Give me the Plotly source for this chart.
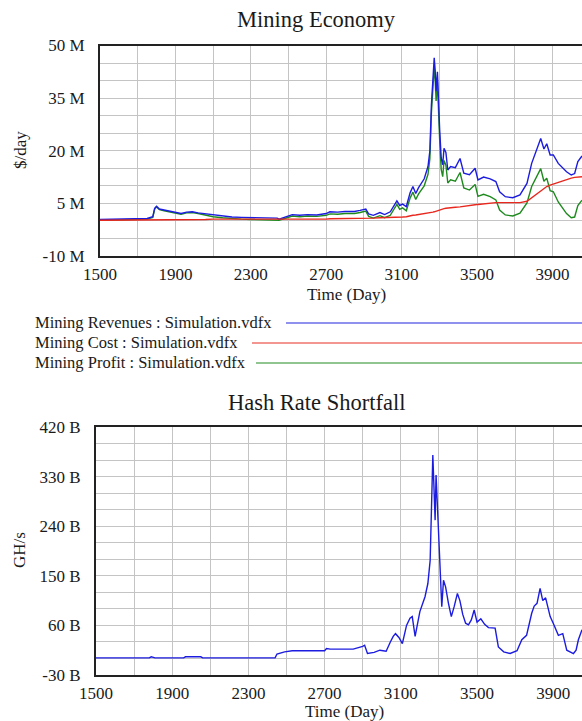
#%%
import plotly.graph_objects as go

#%% Data (top: $ millions/day, bottom: billions GH/s)
top_days = [1500, 1600, 1700, 1750, 1780, 1790, 1800, 1815, 1840, 1870,
            1900, 1930, 1960, 1990, 2020, 2060, 2100, 2150, 2200, 2250,
            2300, 2350, 2400, 2440, 2450, 2480, 2520, 2560, 2600, 2650,
            2700, 2720, 2760, 2800, 2850, 2880, 2910, 2925, 2950, 2985,
            3010, 3040, 3060, 3075, 3090, 3105, 3125, 3145, 3160, 3175,
            3190, 3205, 3220, 3240, 3250, 3258, 3266, 3273, 3278, 3283,
            3290, 3296, 3302, 3310, 3318, 3325, 3335, 3345, 3360, 3385,
            3410, 3430, 3460, 3490, 3505, 3535, 3570, 3600, 3620, 3650,
            3690, 3728, 3765, 3790, 3815, 3838, 3855, 3870, 3888, 3905,
            3931, 3955, 3975, 4000, 4018, 4035, 4057]

mining_revenues = [0.4, 0.5, 0.6, 0.7, 1.2, 3.6, 4.2, 3.4, 3.1, 2.8,
                   2.3, 2.1, 2.5, 2.6, 2.3, 2.0, 1.7, 1.4, 1.1, 1.0,
                   0.9, 0.9, 0.8, 0.8, 0.5, 1.0, 1.8, 1.6, 1.8, 1.7,
                   2.1, 2.6, 2.5, 2.7, 2.7, 3.0, 3.4, 2.0, 1.6, 2.4,
                   1.8, 2.6, 4.5, 5.7, 4.4, 4.8, 4.1, 8.0, 9.8, 7.8,
                   9.5, 10.8, 12.0, 15.5, 20.0, 33.0, 42.0, 46.5, 43.0, 37.0,
                   42.5, 33.0, 26.0, 18.0, 16.0, 20.7, 19.5, 14.5, 15.5, 15.2,
                   17.8, 13.6, 13.2, 15.0, 11.7, 12.5, 12.0, 11.2, 8.3, 6.9,
                   6.6, 7.4, 10.7, 16.4, 20.2, 23.5, 20.5, 22.0, 18.8, 18.8,
                   16.4, 15.0, 14.0, 13.1, 13.5, 16.9, 18.5]

mining_cost = [0.2, 0.2, 0.2, 0.2, 0.2, 0.2, 0.2, 0.2, 0.2, 0.2,
               0.2, 0.2, 0.2, 0.2, 0.2, 0.4, 0.5, 0.5, 0.5, 0.5,
               0.5, 0.5, 0.5, 0.5, 0.3, 0.3, 0.4, 0.4, 0.4, 0.4,
               0.5, 0.6, 0.6, 0.6, 0.6, 0.6, 0.6, 0.7, 0.8, 0.9,
               0.9, 1.0, 1.0, 1.0, 1.1, 1.1, 1.2, 1.5, 1.6, 1.7,
               1.8, 1.9, 2.0, 2.2, 2.3, 2.4, 2.5, 2.6, 2.7, 2.8,
               2.9, 3.0, 3.1, 3.3, 3.4, 3.5, 3.6, 3.7, 3.8, 3.9,
               4.0, 4.2, 4.4, 4.6, 4.7, 4.9, 5.1, 5.2, 5.2, 5.2,
               5.2, 5.2, 5.6, 6.6, 7.8, 8.6, 9.2, 9.8, 10.2, 10.5,
               11.0, 11.5, 11.9, 12.2, 12.4, 12.5, 12.6]

mining_profit = [0.2, 0.3, 0.4, 0.5, 1.0, 3.4, 4.0, 3.2, 2.9, 2.6,
                 2.1, 1.9, 2.3, 2.4, 2.1, 1.6, 1.2, 0.9, 0.6, 0.5,
                 0.4, 0.4, 0.3, 0.3, 0.2, 0.7, 1.4, 1.2, 1.4, 1.3,
                 1.6, 2.0, 1.9, 2.1, 2.1, 2.4, 2.8, 1.3, 0.8, 1.5,
                 0.9, 1.6, 3.5, 4.7, 3.3, 3.7, 2.9, 6.5, 8.2, 6.1,
                 7.7, 8.9, 10.0, 13.3, 17.7, 30.6, 39.5, 43.9, 40.3, 34.2,
                 39.6, 30.0, 22.9, 14.7, 12.6, 17.2, 15.9, 10.8, 11.7, 11.3,
                 13.8, 9.4, 8.8, 10.4, 7.0, 7.6, 6.9, 6.0, 3.1, 1.7,
                 1.4, 2.2, 5.1, 9.8, 12.4, 14.9, 11.3, 12.2, 8.6, 8.3,
                 5.4, 3.5, 2.1, 0.9, 1.1, 4.4, 5.9]

hash_days = [1500, 1780, 1790, 1810, 1960, 1970, 2050, 2060, 2440, 2450,
             2490, 2530, 2700, 2710, 2730, 2850, 2900, 2910, 2925, 2960,
             2990, 3023, 3045, 3060, 3072, 3090, 3108, 3130, 3148, 3160,
             3175, 3200, 3227, 3242, 3254, 3260, 3264, 3268, 3272, 3276,
             3280, 3285, 3290, 3296, 3303, 3310, 3315, 3324, 3335, 3350,
             3365, 3380, 3397, 3410, 3425, 3440, 3455, 3470, 3485, 3500,
             3520, 3540, 3560, 3595, 3612, 3640, 3674, 3710, 3735, 3760,
             3787, 3800, 3815, 3831, 3845, 3860, 3884, 3900, 3927, 3950,
             3971, 4006, 4020, 4032, 4051]

hash_shortfall = [1, 1, 3, 1, 1, 3, 3, 1, 1, 8,
                  12, 14, 14, 18, 17, 17, 22, 24, 9, 11,
                  15, 13, 30, 40, 45, 38, 27, 60, 73, 76,
                  40, 85, 112, 136, 178, 290, 330, 369, 330, 270,
                  251, 333, 290, 257, 172, 120, 94, 142, 130, 100,
                  76, 94, 118, 105, 80, 64, 61, 70, 88, 66,
                  72, 62, 56, 55, 21, 12, 9, 14, 34, 42,
                  82, 95, 100, 127, 105, 110, 76, 64, 42, 45,
                  15, 9, 15, 34, 52]

# Tick labels
x_tick_vals = [1500, 1900, 2300, 2700, 3100, 3500, 3900]
top_tick_vals = [-10, 5, 20, 35, 50]
top_tick_text = ['-10 M', '5 M', '20 M', '35 M', '50 M']
hash_tick_vals = [-30, 60, 150, 240, 330, 420]
hash_tick_text = ['-30 B', '60 B', '150 B', '240 B', '330 B', '420 B']

legend_names = ['Mining Revenues : Simulation.vdfx',
                'Mining Cost : Simulation.vdfx',
                'Mining Profit : Simulation.vdfx']

#%% Styling
W, H = 582, 721
serif = 'Liberation Serif'
text_color = '#1a1a1a'
grid_color = '#c4c4c4'
border_color = '#222222'
blue, red, green = '#1c1ce0', '#e8281e', '#1e8a1e'


def px_x(p):
    return p / W


def px_y(p):
    return 1 - p / H


fig = go.Figure()

# Top graph: draw profit first so revenues / cost sit on top of it
fig.add_trace(go.Scatter(x=top_days, y=mining_profit, mode='lines',
                         line=dict(color=green, width=1.4), xaxis='x', yaxis='y'))
fig.add_trace(go.Scatter(x=top_days, y=mining_revenues, mode='lines',
                         line=dict(color=blue, width=1.4), xaxis='x', yaxis='y'))
fig.add_trace(go.Scatter(x=top_days, y=mining_cost, mode='lines',
                         line=dict(color=red, width=1.4), xaxis='x', yaxis='y'))

# Bottom graph
fig.add_trace(go.Scatter(x=hash_days, y=hash_shortfall, mode='lines',
                         line=dict(color=blue, width=1.4), xaxis='x2', yaxis='y2'))

axis_common = dict(
    showgrid=True, gridcolor=grid_color, gridwidth=1,
    showline=True, linecolor=border_color, linewidth=2,
    zeroline=False, ticks='', fixedrange=True, automargin=False,
    tickfont=dict(family=serif, size=17, color=text_color),
)

fig.update_layout(
    width=W, height=H,
    margin=dict(l=0, r=0, t=0, b=0, pad=0),
    paper_bgcolor='white', plot_bgcolor='white',
    showlegend=False,
    xaxis=dict(axis_common, domain=[px_x(100), 1], range=[1500, 4057],
               tickvals=x_tick_vals, mirror=True, anchor='y', ticklabelstandoff=2,
               minor=dict(tick0=1500, dtick=200, showgrid=True, gridcolor=grid_color)),
    yaxis=dict(axis_common, domain=[px_y(256), px_y(45.5)], range=[-10, 50],
               tickvals=top_tick_vals, ticktext=top_tick_text, anchor='x',
               ticklabelstandoff=10,
               minor=dict(tick0=-10, dtick=5, showgrid=True, gridcolor=grid_color)),
    xaxis2=dict(axis_common, domain=[px_x(96), 1], range=[1500, 4051],
                tickvals=x_tick_vals, mirror=True, anchor='y2', ticklabelstandoff=2,
                minor=dict(tick0=1500, dtick=200, showgrid=True, gridcolor=grid_color)),
    yaxis2=dict(axis_common, domain=[px_y(675), px_y(427)], range=[-30, 420],
                tickvals=hash_tick_vals, ticktext=hash_tick_text, anchor='x2',
                ticklabelstandoff=10,
                minor=dict(tick0=-30, dtick=30, showgrid=True, gridcolor=grid_color)),
)

# Titles and axis titles
def add_text(text, x, y, size, angle=0, xanchor='center'):
    fig.add_annotation(text=text, x=px_x(x), y=px_y(y), xref='paper', yref='paper',
                       showarrow=False, textangle=angle, xanchor=xanchor, yanchor='middle',
                       font=dict(family=serif, size=size, color=text_color))


add_text('Mining Economy', 316, 20, 22.5)
add_text('Time (Day)', 346, 294, 17)
add_text('$/day', 20, 150, 17, angle=-90)
add_text('Hash Rate Shortfall', 316, 402, 22.5)
add_text('Time (Day)', 344, 711, 17)
add_text('GH/s', 19, 550, 17, angle=-90)

# Vensim style legend: name followed by a line sample running to the edge
legend_y = [322, 342, 362]
legend_line_start = [286, 252, 256]
legend_colors = [blue, red, green]
for name, y, x0, c in zip(legend_names, legend_y, legend_line_start, legend_colors):
    add_text(name, 33, y, 16.5, xanchor='left')
    fig.add_shape(type='line', xref='paper', yref='paper',
                  x0=px_x(x0), x1=1, y0=px_y(y + 1), y1=px_y(y + 1),
                  line=dict(color=c, width=1.5), opacity=0.65)

# page has the default 8px body margin, drop it so the figure fills the window
fig.write_html("out.html", config={'displayModeBar': False},
               post_script="document.body.style.margin='0';document.body.style.overflow='hidden';")
